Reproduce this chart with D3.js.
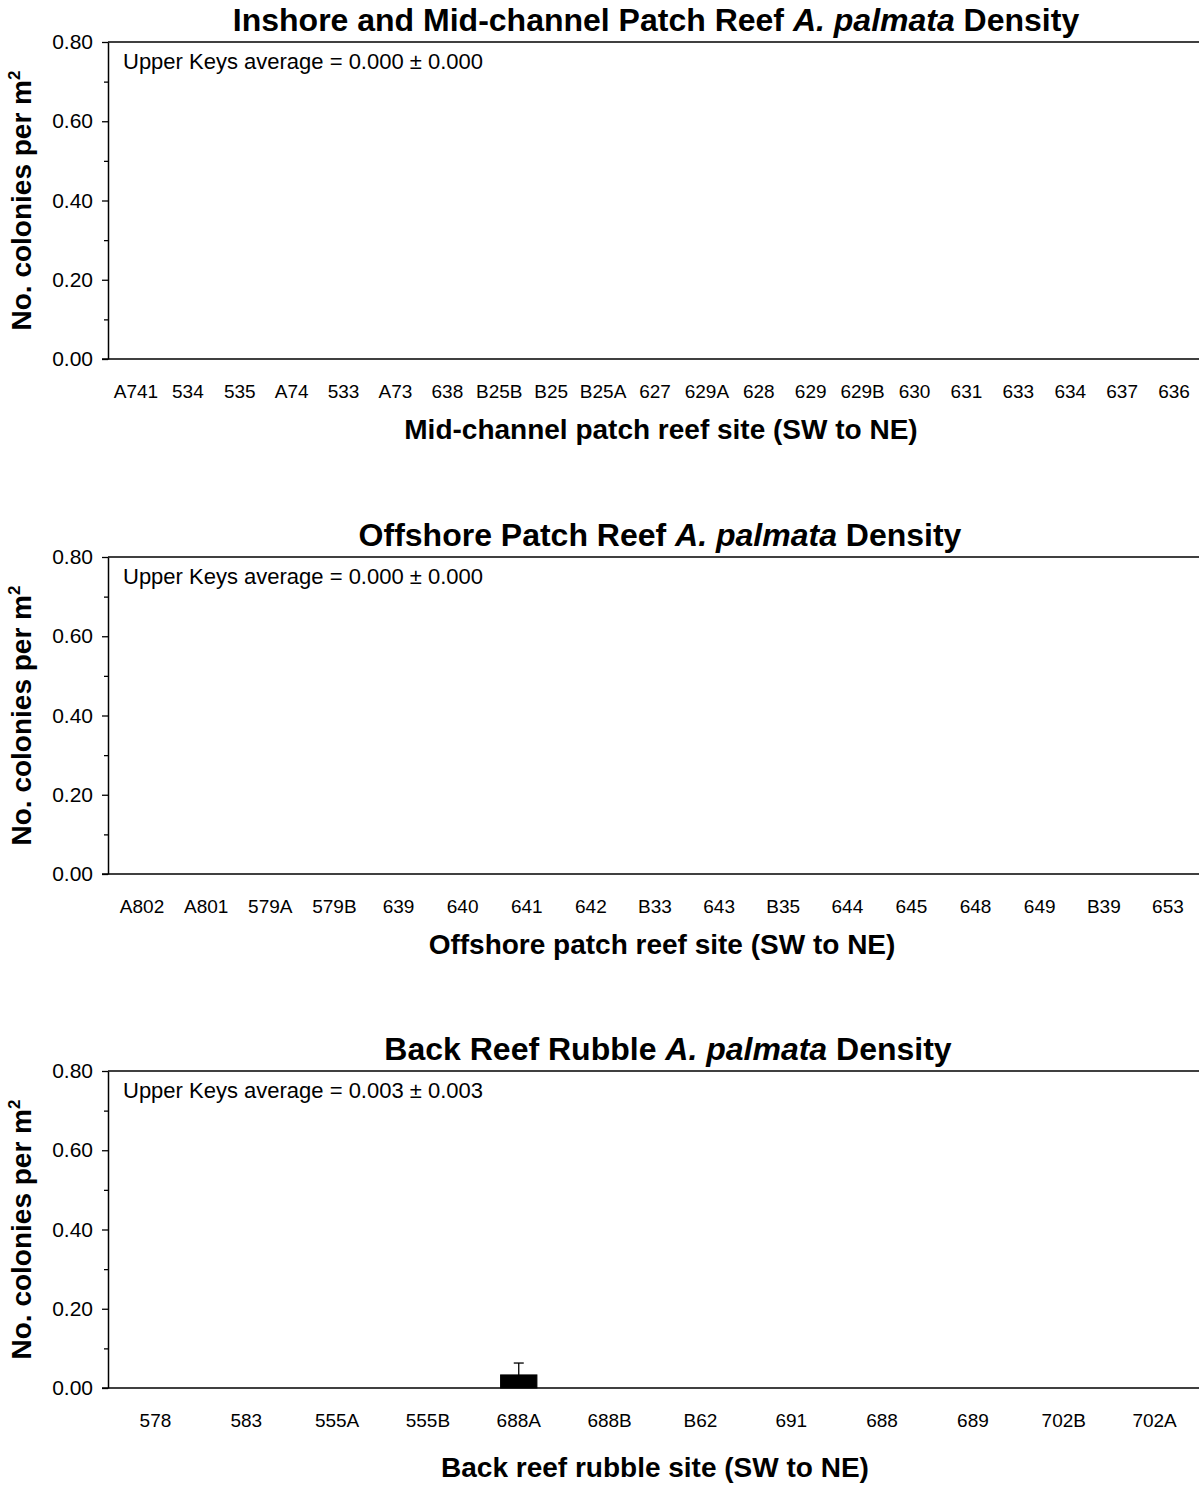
<!DOCTYPE html>
<html><head><meta charset="utf-8">
<script src="https://cdn.jsdelivr.net/npm/d3@7"></script>
<style>
body{margin:0;background:#fff}
svg{display:block}
text{font-family:"Liberation Sans",Arial,Helvetica,sans-serif;fill:#000}
</style>
</head><body>
<svg id="chart" width="1199" height="1486"></svg>
<script>
// ---------- data ----------
const sites1 = ["A741","534","535","A74","533","A73","638","B25B","B25","B25A","627","629A","628","629","629B","630","631","633","634","637","636"];
const values1 = [0,0,0,0,0,0,0,0,0,0,0,0,0,0,0,0,0,0,0,0,0];
const errors1 = [0,0,0,0,0,0,0,0,0,0,0,0,0,0,0,0,0,0,0,0,0];

const sites2 = ["A802","A801","579A","579B","639","640","641","642","B33","643","B35","644","645","648","649","B39","653"];
const values2 = [0,0,0,0,0,0,0,0,0,0,0,0,0,0,0,0,0];
const errors2 = [0,0,0,0,0,0,0,0,0,0,0,0,0,0,0,0,0];

const sites3 = ["578","583","555A","555B","688A","688B","B62","691","688","689","702B","702A"];
const values3 = [0,0,0,0,0.033,0,0,0,0,0,0,0];
const errors3 = [0,0,0,0,0.030,0,0,0,0,0,0,0];

const titles = [
  ["Inshore and Mid-channel Patch Reef ","A. palmata"," Density"],
  ["Offshore Patch Reef ","A. palmata"," Density"],
  ["Back Reef Rubble ","A. palmata"," Density"]
];
const xTitles = ["Mid-channel patch reef site (SW to NE)","Offshore patch reef site (SW  to NE)","Back reef rubble site (SW to NE)"];
const notes = ["Upper Keys average = 0.000 \u00b1 0.000","Upper Keys average = 0.000 \u00b1 0.000","Upper Keys average = 0.003 \u00b1 0.003"];
const yMajor = [0,0.2,0.4,0.6,0.8];
const yMinor = [0.1,0.3,0.5,0.7];
const yTitle = "No. colonies per m";

// ---------- layout ----------
const svg = d3.select("#chart");
const L = 108, R = 1199, H = 317;
const tops = [42, 557, 1071];
const titleX = [656, 660, 668];
const xTitleX = [661, 662, 655];
const xTitleDy = [80, 80, 89];
const data = [
  {sites:sites1, vals:values1, errs:errors1},
  {sites:sites2, vals:values2, errs:errors2},
  {sites:sites3, vals:values3, errs:errors3}
];

data.forEach((p, i) => {
  const top = tops[i], bottom = top + H;
  const g = svg.append("g");
  const x = d3.scaleBand().domain(p.sites).range([110, 1200]).paddingInner(0.6).paddingOuter(0.3);
  const y = d3.scaleLinear().domain([0, 0.8]).range([bottom, top]);

  // title
  const t = g.append("text").attr("x", titleX[i]).attr("y", top - 11)
    .attr("text-anchor", "middle").style("font-size", "32px").style("font-weight", "bold");
  titles[i].forEach((s, k) => t.append("tspan").text(s).style("font-style", k === 1 ? "italic" : "normal"));

  // frame top line
  g.append("line").attr("x1", L).attr("x2", R).attr("y1", top).attr("y2", top)
    .attr("stroke", "#000").attr("stroke-width", 1.5);

  // y axis major
  const ya = g.append("g").attr("transform", `translate(${L},0)`)
    .call(d3.axisLeft(y).tickValues(yMajor).tickFormat(d3.format(".2f")).tickSize(6).tickSizeOuter(0).tickPadding(9));
  ya.select(".domain").attr("stroke", "#000").attr("stroke-width", 1.5);
  ya.selectAll(".tick line").attr("stroke", "#000").attr("stroke-width", 1.3);
  ya.selectAll(".tick text").style("font-size", "21px").style("font-family", '"Liberation Sans",Arial,sans-serif').attr("fill", "#000");
  // minor ticks
  const ym = g.append("g").attr("transform", `translate(${L},0)`)
    .call(d3.axisLeft(y).tickValues(yMinor).tickFormat("").tickSize(4).tickSizeOuter(0));
  ym.select(".domain").remove();
  ym.selectAll(".tick line").attr("stroke", "#000").attr("stroke-width", 1.3);

  // y title
  const yt = g.append("text").attr("transform", `translate(31,${(top + bottom) / 2}) rotate(-90)`)
    .attr("text-anchor", "middle").style("font-size", "28px").style("font-weight", "bold");
  yt.append("tspan").text(yTitle);
  yt.append("tspan").text("2").attr("dy", -11).style("font-size", "17px");

  // bars
  g.selectAll("rect.bar").data(p.sites).enter().append("rect")
    .attr("x", d => x(d)).attr("width", x.bandwidth())
    .attr("y", (d, k) => y(p.vals[k])).attr("height", (d, k) => y(0) - y(p.vals[k]))
    .attr("fill", "#000").attr("stroke", "#000").attr("stroke-width", 1);

  // error bars
  p.sites.forEach((s, k) => {
    if (p.errs[k] > 0) {
      const cx = x(s) + x.bandwidth() / 2;
      g.append("line").attr("x1", cx).attr("x2", cx).attr("y1", y(p.vals[k])).attr("y2", y(p.vals[k] + p.errs[k]))
        .attr("stroke", "#000").attr("stroke-width", 1.3);
      g.append("line").attr("x1", cx - 5).attr("x2", cx + 5).attr("y1", y(p.vals[k] + p.errs[k])).attr("y2", y(p.vals[k] + p.errs[k]))
        .attr("stroke", "#000").attr("stroke-width", 1.3);
    }
  });

  // x axis baseline
  g.append("line").attr("x1", L - 6).attr("x2", R).attr("y1", bottom).attr("y2", bottom)
    .attr("stroke", "#000").attr("stroke-width", 1.5);

  // x tick labels
  g.selectAll("text.xl").data(p.sites).enter().append("text")
    .attr("x", d => x(d) + x.bandwidth() / 2).attr("y", bottom + 39)
    .attr("text-anchor", "middle").style("font-size", "19px").text(d => d);

  // x title
  g.append("text").attr("x", xTitleX[i]).attr("y", bottom + xTitleDy[i])
    .attr("text-anchor", "middle").style("font-size", "28px").style("font-weight", "bold").text(xTitles[i]);

  // annotation
  g.append("text").attr("x", 123).attr("y", top + 27).style("font-size", "22px").text(notes[i]);
});
</script>
</body></html>
